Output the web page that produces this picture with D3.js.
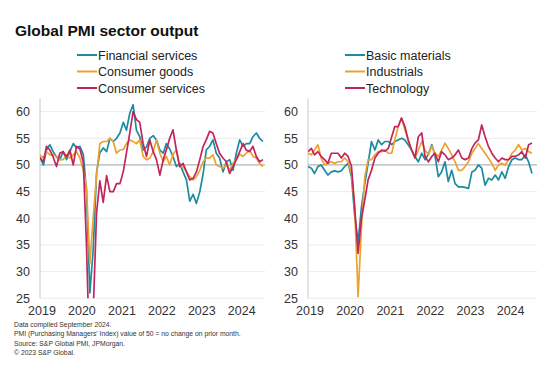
<!DOCTYPE html>
<html>
<head>
<meta charset="utf-8">
<script src="https://cdn.jsdelivr.net/npm/d3@7"></script>
<style>
  body { margin: 0; background: #fff; }
  svg { font-family: "Liberation Sans", Arial, sans-serif; }
</style>
</head>
<body>
<svg id="chart" width="550" height="372"></svg>
<script>
// monthly values, Jan 2019 - Aug 2024
const firstMonth = new Date(2019, 0, 1);
const yearLabels = ["2019", "2020", "2021", "2022", "2023", "2024"];
const yTicks = [25, 30, 35, 40, 45, 50, 55, 60];

const financialServices = [
  51.5, 50.0, 52.8, 53.8, 52.5, 51.5, 51.0, 52.5, 51.0, 52.5, 54.0, 53.2,
  53.5, 52.0, 45.0, 26.0, 34.0, 48.5, 52.3, 53.2, 52.5, 55.0, 54.4, 55.0,
  56.0, 58.0, 56.5, 59.7, 61.3, 56.5, 55.3, 52.8, 53.4, 55.0, 55.5, 54.7,
  52.8, 52.2, 54.0, 53.0, 51.6, 49.7, 50.3, 48.7, 47.2, 43.2, 44.5, 42.8,
  45.0, 48.4, 52.8, 53.5, 54.7, 52.2, 51.3, 48.7, 50.6, 51.0, 49.0, 52.2,
  54.7, 53.5, 54.0, 54.0, 55.3, 56.0, 55.0, 54.4
];
const consumerGoods = [
  51.9, 51.3, 52.5, 51.9, 51.9, 51.6, 51.0, 51.0, 51.9, 51.3, 51.9, 52.5,
  51.3, 49.0, 46.0, 31.5, 40.0, 48.0, 54.0, 54.4, 54.4, 55.0, 54.4, 52.2,
  52.8, 52.9, 54.0, 54.7, 54.4, 54.0, 54.7, 51.6, 51.0, 51.3, 52.5, 54.7,
  52.2, 50.6, 51.6, 50.0, 52.0, 52.8, 49.7, 49.7, 48.7, 47.8, 47.2, 47.8,
  49.0, 50.6, 51.3, 51.3, 51.9, 50.0, 49.7, 49.4, 50.0, 49.0, 50.3, 51.0,
  52.0, 51.6, 52.2, 52.8, 51.6, 51.3, 50.3, 49.7
];
const consumerServices = [
  51.3, 50.6, 53.5, 52.8, 51.5, 49.7, 52.2, 52.5, 51.5, 52.8, 50.0, 53.5,
  53.0, 50.5, 35.0, 12.0, 22.0, 41.0, 47.0, 43.0, 48.0, 45.0, 45.0, 46.5,
  46.5, 48.8, 52.2, 56.0, 60.0, 58.5, 58.0, 54.0, 51.6, 54.7, 52.5, 51.0,
  48.1, 51.0, 52.8, 55.0, 56.6, 52.8, 49.7, 50.3, 48.7, 47.2, 47.5, 48.7,
  51.0, 53.5, 54.7, 56.3, 56.0, 54.0, 52.2, 51.3, 50.6, 48.4, 49.7, 51.0,
  52.5, 54.0, 52.8, 52.5, 53.5, 51.6, 50.6, 51.0
];
const basicMaterials = [
  49.7, 49.4, 48.4, 49.7, 50.0, 49.0, 48.1, 48.7, 48.9, 48.7, 48.9, 49.7,
  50.3, 47.8, 40.5, 35.5, 42.0, 46.5, 50.3, 54.4, 52.8, 54.7, 53.8, 54.4,
  54.4, 53.8, 54.4, 54.7, 55.0, 54.7, 53.8, 52.8, 51.6, 50.6, 52.2, 51.0,
  52.0, 53.8, 51.9, 47.8, 48.7, 50.6, 46.9, 49.0, 46.5, 45.9, 45.9, 45.8,
  45.6, 48.7, 49.0, 50.0, 49.4, 46.2, 47.5, 47.2, 48.1, 47.2, 48.7, 47.5,
  49.7, 51.0, 51.3, 51.0, 51.0, 51.9, 50.6, 48.4
];
const industrials = [
  52.2, 51.9, 52.8, 53.8, 51.3, 50.0, 50.3, 50.6, 50.3, 50.6, 50.6, 51.3,
  50.6, 48.4, 42.0, 25.3, 38.0, 47.8, 51.0, 51.0, 51.9, 52.5, 52.5, 52.8,
  52.2, 52.2, 54.7, 57.2, 58.8, 56.6, 54.7, 52.8, 51.3, 52.8, 54.4, 52.8,
  51.9, 53.5, 52.2, 51.6, 52.8, 54.1, 53.1, 51.9, 50.6, 49.0, 49.0, 49.7,
  50.6, 52.2, 53.1, 54.0, 53.1, 52.2, 51.3, 50.3, 49.0, 50.0, 50.3, 50.0,
  51.0, 52.2, 52.8, 53.8, 52.8, 53.1, 52.5, 52.2
];
const technology = [
  52.5, 53.1, 51.9, 52.5, 51.6, 51.0, 50.3, 52.2, 52.2, 52.2, 51.3, 52.2,
  51.6, 49.7, 42.0, 33.4, 40.0, 43.4, 47.2, 49.0, 51.3, 52.2, 52.8, 52.6,
  53.1, 55.3, 57.2, 57.2, 58.8, 57.2, 54.7, 52.8, 51.3, 55.3, 56.0, 51.6,
  50.6, 51.6, 52.2, 50.6, 52.5, 51.9, 51.0, 51.3, 51.9, 52.8, 51.3, 51.0,
  51.3, 53.1, 54.1, 54.7, 57.5, 55.3, 53.5, 52.2, 51.3, 50.6, 51.3, 51.0,
  51.0, 51.6, 51.6, 51.9, 52.5, 51.3, 53.8, 54.1
];

const colTeal = "#1b8ca0", colOrange = "#eca231", colRed = "#c4245c";

const panels = [
  { left: 40, right: 263, gridEnd: 265, labelX: 30,
    series: [
      { name: "Financial services", values: financialServices, color: colTeal },
      { name: "Consumer goods", values: consumerGoods, color: colOrange },
      { name: "Consumer services", values: consumerServices, color: colRed }
    ] },
  { left: 308, right: 532, gridEnd: 537, labelX: 298,
    series: [
      { name: "Basic materials", values: basicMaterials, color: colTeal },
      { name: "Industrials", values: industrials, color: colOrange },
      { name: "Technology", values: technology, color: colRed }
    ] }
];

const svg = d3.select("#chart");

svg.append("text")
  .attr("x", 15).attr("y", 36)
  .attr("font-size", 15.5).attr("font-weight", "bold").attr("fill", "#111")
  .text("Global PMI sector output");

const y = d3.scaleLinear().domain([25, 62.5]).range([298.3, 98.3]);

panels.forEach((p, pi) => {
  const dates = p.series[0].values.map((v, i) => d3.timeMonth.offset(firstMonth, i));
  const x = d3.scaleTime().domain(d3.extent(dates)).range([p.left, p.right]);
  const g = svg.append("g");

  // gridlines
  g.selectAll("line.grid")
    .data(yTicks)
    .enter()
    .append("line")
    .attr("x1", p.left).attr("x2", p.gridEnd)
    .attr("y1", d => y(d)).attr("y2", d => y(d))
    .attr("stroke", d => d === 50 ? "#b4b4b4" : "#ececec")
    .attr("stroke-width", d => d === 50 ? 1.3 : 1);

  // y axis line
  g.append("line")
    .attr("x1", p.left).attr("x2", p.left)
    .attr("y1", y(62.5)).attr("y2", y(25))
    .attr("stroke", "#c8c8c8");

  // y labels
  g.selectAll("text.ylab")
    .data(yTicks)
    .enter()
    .append("text")
    .attr("x", p.labelX).attr("y", d => y(d) + 4.5)
    .attr("text-anchor", "end")
    .attr("font-size", 12.5).attr("fill", "#333")
    .text(d => d);

  // x labels
  g.selectAll("text.xlab")
    .data(yearLabels)
    .enter()
    .append("text")
    .attr("x", d => x(new Date(+d, 0, 1)) + 2)
    .attr("y", 315)
    .attr("text-anchor", "middle")
    .attr("font-size", 12.5).attr("fill", "#333")
    .text(d => d);

  // clip for the plot area
  svg.append("clipPath").attr("id", "clip" + pi)
    .append("rect")
    .attr("x", p.left).attr("y", y(62.5))
    .attr("width", p.gridEnd - p.left).attr("height", y(25) - y(62.5));

  const line = d3.line()
    .x((d, i) => x(dates[i]))
    .y(d => y(d));

  g.append("g").attr("clip-path", "url(#clip" + pi + ")")
    .selectAll("path")
    .data(p.series)
    .enter()
    .append("path")
    .attr("d", d => line(d.values))
    .attr("fill", "none")
    .attr("stroke", d => d.color)
    .attr("stroke-width", 1.7)
    .attr("stroke-linejoin", "round");

  // legend
  const lg = g.selectAll("g.leg")
    .data(p.series)
    .enter()
    .append("g")
    .attr("transform", (d, i) => `translate(${p.left + 37},${55 + i * 16.5})`);
  lg.append("line")
    .attr("x1", 0).attr("x2", 20)
    .attr("stroke", d => d.color).attr("stroke-width", 2);
  lg.append("text")
    .attr("x", 21).attr("y", 4.5)
    .attr("font-size", 12.5).attr("fill", "#222")
    .text(d => d.name);
});

// footer notes
const notes = [
  "Data compiled September 2024.",
  "PMI (Purchasing Managers' Index) value of 50 = no change on prior month.",
  "Source: S&P Global PMI, JPMorgan.",
  "\u00a9 2023 S&P Global."
];
svg.selectAll("text.note")
  .data(notes)
  .enter()
  .append("text")
  .attr("x", 14)
  .attr("y", (d, i) => 327 + i * 9.3)
  .attr("font-size", 6.8).attr("fill", "#333")
  .text(d => d);
</script>
</body>
</html>
